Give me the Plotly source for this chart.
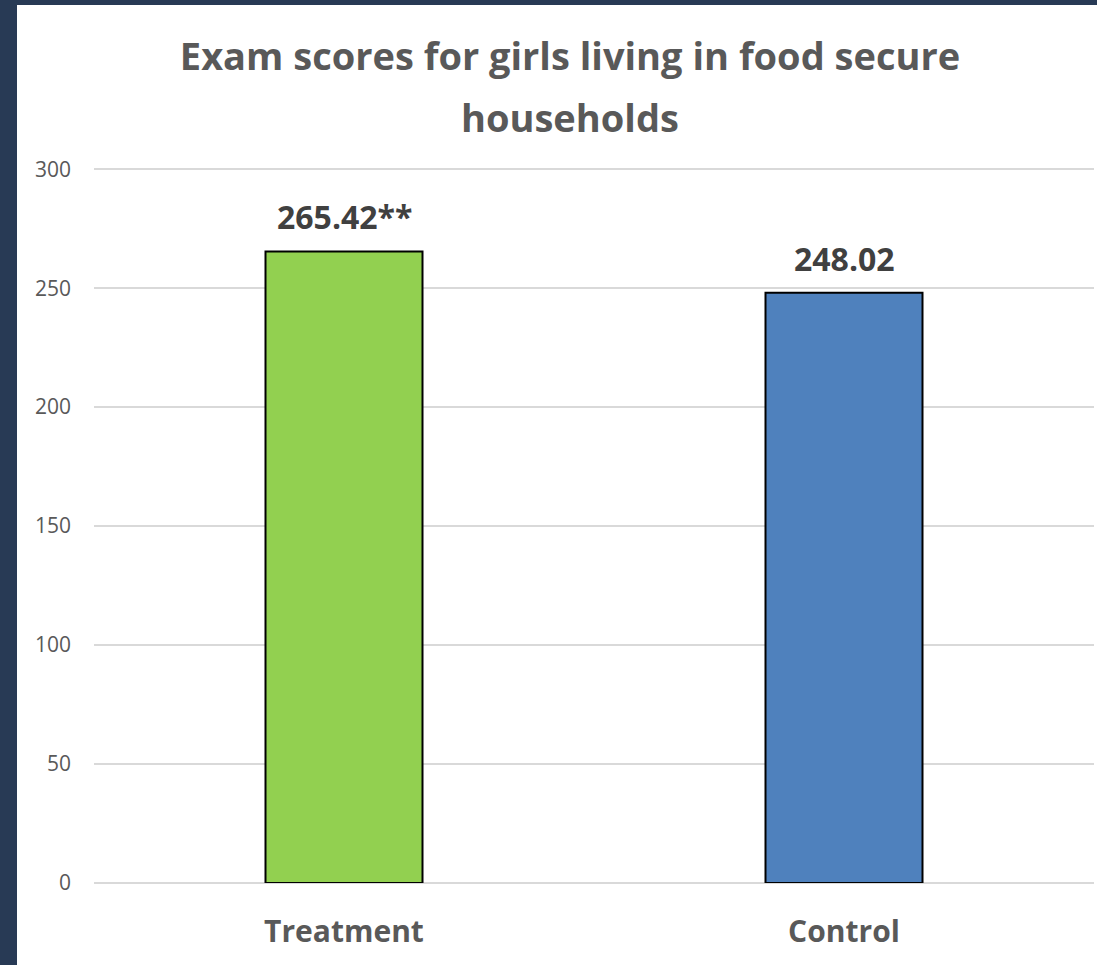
import plotly.graph_objects as go

categories = ["Treatment", "Control"]
scores = [265.42, 248.02]
label_texts = ["265.42**", "248.02"]
bar_colors = ["#92D050", "#4F81BD"]
y_ticks = [0, 50, 100, 150, 200, 250, 300]
title_line1 = "Exam scores for girls living in food secure"
title_line2 = "households"

W, H = 1097, 965
ML, MR, MT, MB = 94, 3, 168, 82
PW, PH = W - ML - MR, H - MT - MB
NAVY = "#283A55"
FONT = "Open Sans"
Y_MAX = 300.5


def px_to_paper_x(px):
    return (px - ML) / PW


def py_to_paper_y(py):
    return (H - MB - py) / PH


fig = go.Figure()
fig.add_trace(go.Bar(
    x=categories,
    y=scores,
    marker=dict(color=bar_colors, line=dict(color="#000000", width=2)),
    width=0.314,
    showlegend=False,
    hoverinfo="x+y",
))

# value labels above bars
for cat, val, txt in zip(categories, scores, label_texts):
    fig.add_annotation(
        x=cat, y=val, text=f"<b>{txt}</b>", showarrow=False,
        yanchor="bottom", yshift=11,
        font=dict(family=FONT, size=32, color="#404040"),
    )

# second title line
fig.add_annotation(
    xref="paper", yref="paper",
    x=px_to_paper_x(570), y=py_to_paper_y(117),
    xanchor="center", yanchor="middle",
    text=f"<b>{title_line2}</b>", showarrow=False,
    font=dict(family=FONT, size=38, color="#595959"),
)

# navy frame strips (left and top)
fig.add_shape(type="rect", xref="paper", yref="paper", layer="below",
              x0=px_to_paper_x(0), x1=px_to_paper_x(17),
              y0=py_to_paper_y(H), y1=py_to_paper_y(0),
              fillcolor=NAVY, line=dict(width=0))
fig.add_shape(type="rect", xref="paper", yref="paper", layer="below",
              x0=px_to_paper_x(0), x1=px_to_paper_x(W),
              y0=py_to_paper_y(5), y1=py_to_paper_y(0),
              fillcolor=NAVY, line=dict(width=0))

fig.update_layout(
    width=W, height=H,
    margin=dict(l=ML, r=MR, t=MT, b=MB, pad=0),
    paper_bgcolor="#FFFFFF",
    plot_bgcolor="rgba(0,0,0,0)",
    title=dict(
        text=f"<b>{title_line1}</b>",
        x=570 / W, xanchor="center", xref="container",
        y=1 - 57 / H, yanchor="middle", yref="container",
        font=dict(family=FONT, size=38, color="#595959"),
    ),
    font=dict(family=FONT, color="#595959"),
    bargap=0.686,
)
fig.update_yaxes(
    range=[0, Y_MAX], tickvals=y_ticks, showgrid=True,
    gridcolor="#D9D9D9", gridwidth=1.5,
    zeroline=True, zerolinecolor="#D9D9D9", zerolinewidth=1.5,
    showline=False, ticks="", ticklabelstandoff=22,
    tickfont=dict(family=FONT, size=21, color="#595959"),
    fixedrange=True,
)
fig.update_xaxes(
    showgrid=False, showline=False, ticks="", ticklabelstandoff=28,
    tickfont=dict(family=FONT, size=30, color="#595959"),
    tickprefix="<b>", ticksuffix="</b>",
    fixedrange=True,
)

fig.write_html("out.html")
